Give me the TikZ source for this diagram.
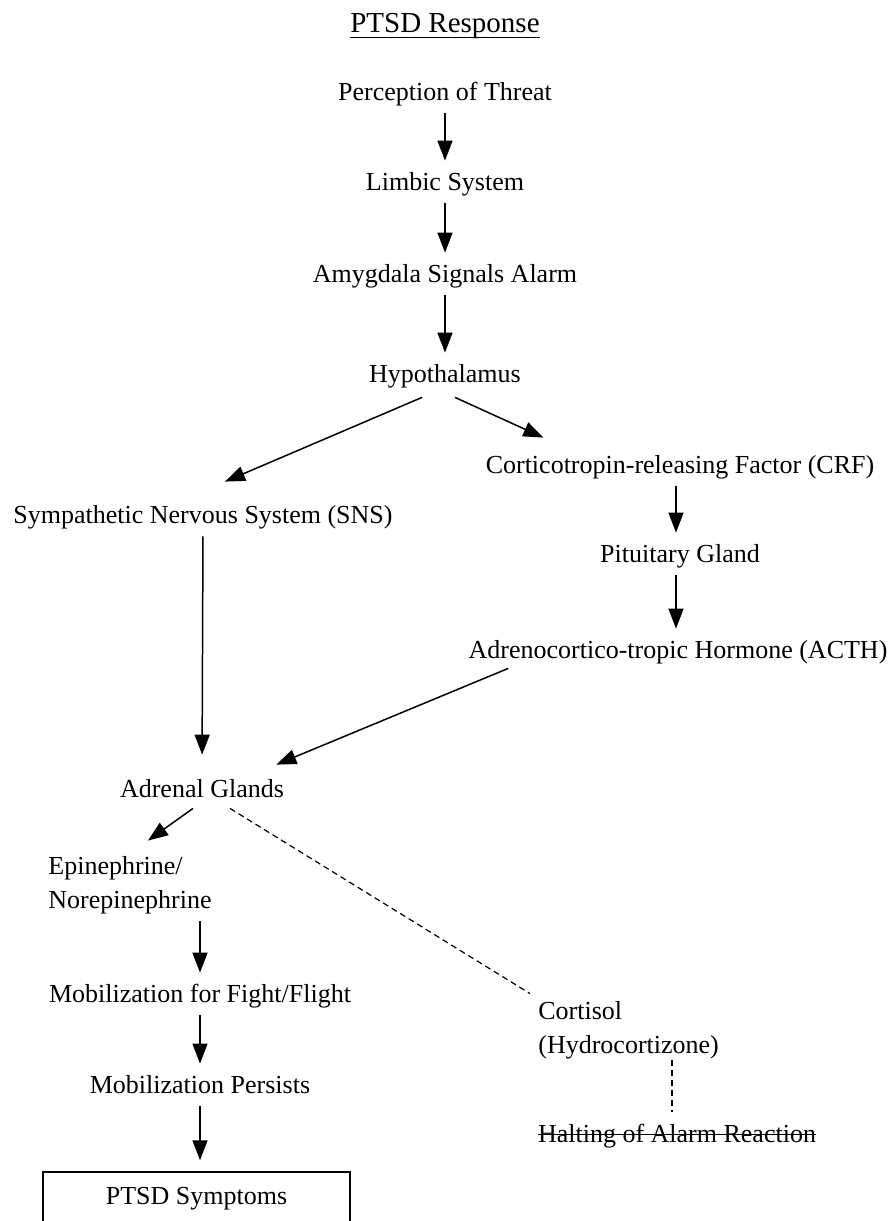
\documentclass[tikz,border=0pt]{standalone}
\usepackage{fontspec}
\setmainfont{Liberation Serif}
\usetikzlibrary{arrows.meta,calc}
% text with a rule under / through it
\newcommand{\ulinetxt}[1]{\setbox0\hbox{#1}\rlap{\rule[-0.2em]{\wd0}{0.6pt}}\box0}
\newcommand{\strikeout}[1]{\setbox0\hbox{#1}\rlap{\rule[0.26em]{\wd0}{0.8pt}}\box0}
\tikzset{
  node-txt/.style={inner sep=0pt,anchor=base,font=\fontsize{13}{17}\selectfont,
    text height=9pt,text depth=3pt},
  node-multi/.style={inner sep=0pt,anchor=base west,align=left,
    font=\fontsize{13}{17}\selectfont},
  node-box/.style={node-txt,draw,line width=0.7pt,minimum width=153.5pt,inner ysep=7pt},
  arrow/.style={-{Triangle[length=10pt,width=7.5pt]},line width=0.75pt},
  arrow-down/.style={arrow,shorten <=3.5pt,shorten >=5.5pt},
  line-dash/.style={line width=0.6pt,dash pattern=on 3pt off 2pt},
}
\begin{document}
\begin{tikzpicture}[x=0.5pt,y=-0.5pt]
  \useasboundingbox (0,0) rectangle (893,1221);
  % main chain
  \node[node-txt,font=\fontsize{14.5}{17}\selectfont] (title) at (445,32) {\ulinetxt{PTSD Response}};
  \node[node-txt] (percep) at (445,100) {Perception of Threat};
  \node[node-txt] (limbic) at (445,190) {Limbic System};
  \node[node-txt] (amyg) at (445,282) {Amygdala Signals Alarm};
  \node[node-txt] (hypo) at (445,382) {Hypothalamus};
  % two branches
  \node[node-txt] (sns) at (203,523) {Sympathetic Nervous System (SNS)};
  \node[node-txt] (crf) at (680,473) {Corticotropin-releasing Factor (CRF)};
  \node[node-txt] (pit) at (680,562) {Pituitary Gland};
  \node[node-txt] (acth) at (678,658) {Adrenocortico-tropic Hormone (ACTH)};
  \node[node-txt] (adrenal) at (202,797) {Adrenal Glands};
  % lower part
  \node[node-multi] (epi) at (48,908) {Epinephrine/\\Norepinephrine};
  \node[node-txt] (fight) at (200,1002) {Mobilization for Fight/Flight};
  \node[node-txt] (persist) at (200,1093) {Mobilization Persists};
  \node[node-box] (symp) at (196.5,1204) {PTSD Symptoms};
  \node[node-multi] (cortisol) at (538,1053) {Cortisol\\(Hydrocortizone)};
  \node[node-txt] (halt) at (677,1142) {\strikeout{Halting of Alarm Reaction}};

  \draw[arrow-down] (percep.south) -- (limbic.north);
  \draw[arrow-down] (limbic.south) -- (amyg.north);
  \draw[arrow-down] (amyg.south) -- (hypo.north);
  \draw[arrow] ($(hypo.south)+(-23,9)$) -- ($(sns.north)+(22,-23)$);
  \draw[arrow] ($(hypo.south)+(10,9)$) -- ($(crf.north west)+(58,-17)$);
  \draw[arrow-down] ($(crf.south)+(-4,0)$) -- ($(pit.north)+(-4,0)$);
  \draw[arrow-down] ($(pit.south)+(-4,0)$) -- ($(acth.north)+(-2,0)$);
  \draw[arrow-down,shorten >=12pt] (sns.south) -- (adrenal.north);
  \draw[arrow] ($(acth.south west)+(40,4)$) -- ($(adrenal.north east)+(-8,-14)$);
  \draw[arrow] ($(adrenal.south)+(-9,5)$) -- ($(epi.north)+(18,-15)$);
  \draw[line-dash] ($(adrenal.south)+(28,5)$) -- ($(cortisol.north west)+(-8,-7)$);
  \draw[arrow-down] (fight.north |- epi.south) -- (fight.north);
  \draw[arrow-down] (fight.south) -- (persist.north);
  \draw[arrow-down] (persist.south) -- (persist.south |- symp.north);
  \draw[line-dash] ($(cortisol.south -| halt.north)+(-5,1)$) -- ($(halt.north)+(-5,-12)$);
\end{tikzpicture}
\end{document}
